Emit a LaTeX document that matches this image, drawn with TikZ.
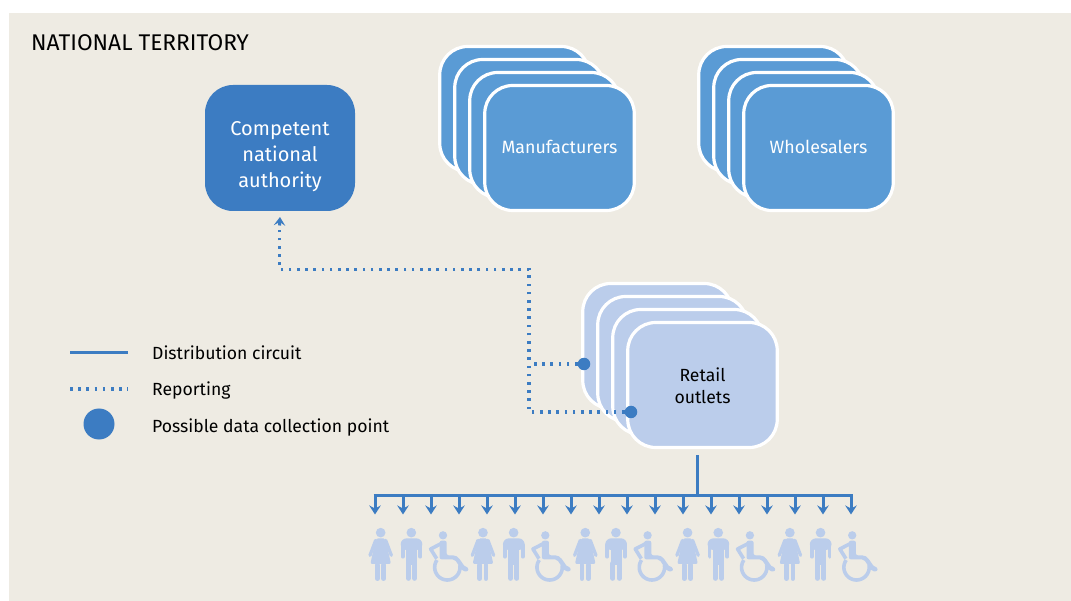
\documentclass[tikz,border=0pt]{standalone}
\usepackage{fontspec}
\setmainfont{Fira Sans}
\usetikzlibrary{arrows.meta}
\definecolor{bgc}{HTML}{EEEBE3}
\definecolor{darkb}{HTML}{3C7CC2}
\definecolor{midb}{HTML}{5A9BD5}
\definecolor{lightb}{HTML}{BBCDEB}
\newcommand{\lowtext}[2]{\raisebox{-#1pt}[0pt][0pt]{#2}}
\tikzset{
  x=1pt,y=-1pt,
  card/.style={draw=white,line width=3.2pt,rounded corners=28pt,minimum width=149.5pt,minimum height=125pt,inner sep=0pt,align=center,text width=140pt},
  midcard/.style={card,fill=midb,text=white,font=\fontsize{17.8}{22}\selectfont},
  lightcard/.style={card,fill=lightb,text=black,font=\fontsize{17.6}{22}\selectfont},
  flow/.style={darkb,line width=3pt},
  flowtip/.style={darkb,line width=3pt,-{Stealth[length=9pt,width=11.5pt,inset=3pt]}},
  report/.style={darkb,line width=3.05pt,dash pattern=on 2.6pt off 5.6pt},
  collect/.style={circle,fill=darkb,inner sep=0pt,minimum size=12.5pt},
  legendtext/.style={anchor=base west,inner sep=0pt,font=\fontsize{17.6}{20}\selectfont,text=black},
  people/.pic={
    \begin{scope}[scale=1/3]
    % woman
    \fill[lightb] (62,248) circle (14.5);
    \fill[lightb,rounded corners=2pt] (48,265) -- (76,265) -- (93,342) -- (31,342) -- cycle;
    \draw[lightb,line width=3.3pt,line cap=round] (47,271) -- (30,316) (77,271) -- (94,316);
    \draw[lightb,line width=4.6pt,line cap=round] (52,345) -- (52,386) (71,345) -- (71,386);
    % man
    \fill[lightb] (154,248) circle (14.5);
    \fill[lightb,rounded corners=6pt] (122,265) rectangle (187,300);
    \fill[lightb] (138,280) rectangle (171,345);
    \draw[lightb,line width=3.8pt,line cap=round] (128,285) -- (128,320) (181,285) -- (181,320);
    \draw[lightb,line width=5pt,line cap=round] (145,340) -- (145,385) (164,340) -- (164,385);
    % wheelchair
    \fill[lightb] (249,256) circle (12.5);
    \fill[lightb,rounded corners=2pt] (239,272) -- (260,272) -- (260,316) -- (285,316) -- (295,322) -- (316,352) -- (325,352) -- (325,364) -- (308,364) -- (284,328) -- (239,328) -- cycle;
    \draw[lightb,line width=3.6pt,line join=round] (245,280) -- (212,297) -- (230,326);
    \draw[lightb,line width=3.6pt] plot[smooth,domain=-10:215,samples=30] ({262+38*cos(\x)},{352+38*sin(\x)});
    \end{scope}
  }
}
\begin{document}
\begin{tikzpicture}
\useasboundingbox (0,0) rectangle (1071,601);
\fill[white] (0,0) rectangle (1071,601);
\fill[bgc] (9,13) rectangle (1071,601);
\node[anchor=base west,inner sep=0pt,font=\fontsize{22.7}{24}\selectfont,text=black] (title) at (31,50.5) {NATIONAL TERRITORY};
% authority
\node[draw=none,fill=darkb,rounded corners=28pt,minimum width=150pt,minimum height=126pt,inner sep=0pt,align=center,text width=140pt,text=white,font=\fontsize{20}{26}\selectfont] (cna) at (280,148) {\lowtext{14}{Competent}\\\lowtext{14}{national}\\\lowtext{14}{authority}};
% manufacturers
\node[midcard] (m1) at (514.5,109) {};
\node[midcard] (m2) at (529.5,122) {};
\node[midcard] (m3) at (544.5,135) {};
\node[midcard] (m4) at (559.5,148) {\lowtext{5.5}{Manufacturers}};
% wholesalers
\node[midcard] (w1) at (773.5,109) {};
\node[midcard] (w2) at (788.5,122) {};
\node[midcard] (w3) at (803.5,135) {};
\node[midcard] (w4) at (818.5,148) {\lowtext{5.5}{Wholesalers}};
% reporting lines and retail
\node[lightcard] (r1) at (657.5,346) {};
\node[lightcard] (r2) at (672.5,359) {};
\node[lightcard] (r3) at (687.5,372) {};
\node[lightcard] (r4) at (702.5,385) {\lowtext{7.5}{Retail}\\\lowtext{7.5}{outlets}};
\node[collect] (d1) at (584,364) {};
\node[collect] (d2) at (631,412) {};
\coordinate (ra) at (279.5,269.5);
\coordinate (rb) at (529,269.5);
\coordinate (rc) at (529,364);
\coordinate (rd) at (529,412);
\draw[report] (d2) -- (rd) -- (rb) -- (ra) -- (279.5,229);
\draw[report] (d1) -- (rc);
\draw[darkb,line width=3pt,-{Stealth[length=8.5pt,width=11.5pt,inset=3.5pt]}] (279.5,225.5) -- (cna.south |- 0,217);
% distribution
\coordinate (dtop) at (697.5,455);
\coordinate (dmid) at (697.5,495.5);
\coordinate (dl) at (375,495.5);
\coordinate (dr) at (851,495.5);
\draw[flow] (dtop) -- (dmid);
\draw[flow,line cap=butt] ([xshift=-1.5pt]dl) -- ([xshift=1.5pt]dr);
\foreach \i in {0,...,17}{
  \coordinate (a\i) at ({375+28*\i},494);
  \coordinate (b\i) at ({375+28*\i},514.5);
  \draw[flowtip] (a\i) -- (b\i);
}
\foreach \i in {0,...,4}{
  \pic at ({360+102.3*\i},450) {people};
}
% legend
\coordinate (l1a) at (70,352.7); \coordinate (l1b) at (128,352.7);
\coordinate (l2a) at (70,389); \coordinate (l2b) at (128,389);
\draw[flow] (l1a) -- (l1b);
\draw[report] (l2a) -- (l2b);
\node[circle,fill=darkb,inner sep=0pt,minimum size=31pt] (l3) at (99,424) {};
\node[legendtext] (t1) at (152,360) {Distribution circuit};
\node[legendtext] (t2) at (152,395.5) {Reporting};
\node[legendtext] (t3) at (152,432.5) {Possible data collection point};
\end{tikzpicture}
\end{document}
